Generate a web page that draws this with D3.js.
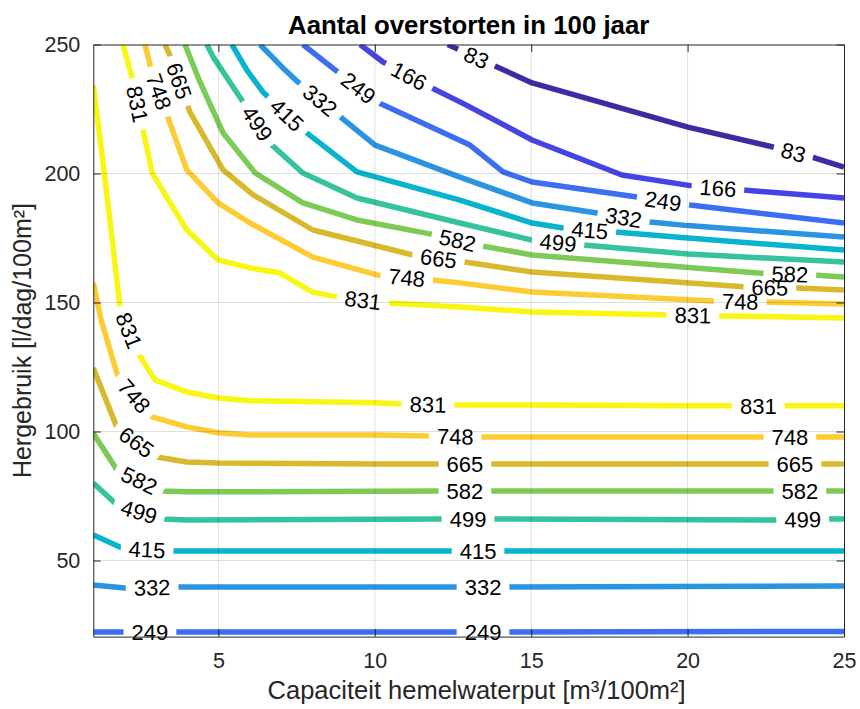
<!DOCTYPE html>
<html>
<head>
<meta charset="utf-8">
<script src="https://cdn.jsdelivr.net/npm/d3@7"></script>
<style>
  html, body { margin: 0; padding: 0; background: #fff; }
  svg { display: block; font-family: "Liberation Sans", Arial, Helvetica, sans-serif; }
</style>
</head>
<body>
<svg id="chart" width="860" height="709"></svg>
<script>
// ---- text ----
const titleText = "Aantal overstorten in 100 jaar";
const xLabelText = "Capaciteit hemelwaterput [m³/100m²]";
const yLabelText = "Hergebruik [l/dag/100m²]";

// ---- axes ----
const xDomain = [1, 25];
const yDomain = [20.5, 250];
const xTicks = [5, 10, 15, 20, 25];
const yTicks = [50, 100, 150, 200, 250];

// ---- contour levels and their colours ----
const levels = [83, 166, 249, 332, 415, 499, 582, 665, 748, 831];
const levelColors = ["#3a2da3", "#4543e3", "#3c6ef3", "#2b93e4", "#07b3ce",
                     "#34c39c", "#7ccb57", "#d8b92b", "#fdcc33", "#f8f714"];

// ---- contour lines: [capaciteit, hergebruik] ----
// upper family (high reuse)
const c83 = [[12.33,250],[12.72,247.9],[13.91,241.3],[15.03,235.1],[20.01,218.0],[22.86,209.9],[24.08,206.0],[25,202.5]];
const c166 = [[9.53,250],[10.26,243.2],[11.76,233.5],[12.88,226.8],[15.03,213.0],[17.90,199.4],[20.14,195.2],[21.78,193.6],[25,190.5]];
const c249a = [[7.70,250],[8.82,239.3],[10.07,227.7],[13.04,211.0],[14.10,200.6],[15.03,196.7],[18.38,190.9],[20.08,187.8],[25,180.8]];
const c332a = [[6.33,250],[7.03,241.3],[7.54,235.5],[8.82,222.7],[10.01,211.0],[12.72,198.6],[15.03,188.6],[17.10,184.7],[18.80,181.2],[20.01,179.8],[25,175.4]];
const c415a = [[5.43,250],[5.91,240.1],[6.42,231.6],[7.70,216.9],[9.43,200.6],[12.72,189.7],[15.03,180.8],[16.02,178.9],[17.68,177.3],[20.01,175.0],[25,170.3]];
const c499a = [[4.63,250],[4.83,245.2],[5.79,227.7],[6.71,211.0],[7.70,200.2],[9.43,190.5],[12.72,180.8],[15.03,174.2],[16.66,172.3],[20.01,168.8],[25,165.7]];
const c582a = [[3.93,250],[4.41,235.5],[5.15,215.7],[6.18,200.2],[7.70,188.6],[9.43,182.0],[11.76,176.6],[13.43,171.9],[15.03,168.4],[22.26,161.4],[24.01,160.7],[25,159.9]];
const c665a = [[3.29,250],[3.52,244.0],[4.09,223.8],[5.15,201.4],[6.11,191.7],[8.02,178.1],[11.22,168.4],[12.88,165.7],[15.03,161.8],[21.91,156.0],[23.50,155.6],[25,154.8]];
const c748a = [[2.65,250],[2.84,240.9],[3.39,221.5],[3.99,201.4],[4.99,188.6],[6.01,180.8],[8.02,167.6],[10.07,160.7],[11.86,158.7],[12.72,157.6],[15.03,154.1],[20.81,150.6],[22.48,150.2],[25,149.4]];
const c831a = [[1.95,250],[2.24,237.0],[2.59,216.9],[2.88,200.2],[3.99,178.1],[4.99,166.5],[6.01,163.4],[6.97,161.4],[7.99,154.1],[8.82,152.1],[10.42,149.8],[12.72,148.3],[15.03,146.3],[19.53,145.2],[21.10,144.8],[25,144.0]];
// lower family (low reuse)
const c831b = [[1.0,234.3],[1.28,207.2],[1.57,178.1],[1.85,148.3],[2.43,130.4],[2.97,120.0],[3.99,115.3],[4.99,113.0],[6.01,111.9],[8.15,111.5],[10.01,111.1],[10.80,110.7],[12.50,110.3],[15.03,110.3],[20.01,110.0],[21.46,110.0],[23.12,110.0],[25,110.0]];
const c748b = [[1.0,157.6],[1.25,143.2],[1.79,121.1],[2.88,105.7],[3.99,101.8],[4.99,99.5],[6.01,98.6],[10.01,98.6],[11.70,98.3],[13.36,97.9],[20.01,97.9],[22.39,97.9],[24.01,97.9],[25,97.9]];
const c665b = [[1.0,124.6],[1.76,101.4],[3.04,90.1],[3.99,88.2],[4.99,87.8],[10.01,87.4],[11.99,87.4],[13.62,87.4],[22.58,87.4],[24.24,87.4],[25,87.4]];
const c582b = [[1.0,99.3],[1.76,85.1],[3.20,76.9],[3.99,76.6],[12.15,76.9],[13.78,76.9],[22.80,76.9],[24.47,76.9],[25,76.9]];
const c499b = [[1.0,80.0],[1.76,71.5],[3.23,66.1],[3.99,65.7],[12.18,66.1],[13.85,66.1],[22.87,65.7],[24.55,66.1],[25,66.1]];
const c415b = [[1.0,59.9],[1.92,54.8],[3.55,53.7],[12.57,53.7],[14.23,53.7],[25,53.7]];
const c332b = [[1.0,40.5],[2.01,39.3],[3.61,39.7],[12.66,39.7],[14.33,39.7],[25,40.1]];
const c249b = [[1.0,22.3],[2.01,22.3],[3.68,22.3],[12.66,22.3],[14.33,22.3],[25,22.5]];

// ---- inline label anchors per line ----
const l83 = [[13.26,245.2],[23.36,207.2]];
const l166 = [[11.06,237.0],[20.97,194.4]];
const l249a = [[9.43,232.4],[19.21,189.0]];
const l332a = [[8.18,227.3],[17.94,182.0]];
const l415a = [[7.13,221.9],[16.87,177.3]];
const l499a = [[6.17,218.8],[15.86,173.4]];
const l582a = [[12.63,173.4],[23.27,161.4]];
const l665a = [[3.65,235.5],[12.03,166.5],[22.63,155.6]];
const l748a = [[2.97,231.2],[11.02,159.5],[21.68,150.2]];
const l831a = [[2.27,226.5],[9.62,150.9],[20.17,145.0]];
const l831b = [[1.95,138.2],[11.70,110.3],[22.26,109.8]];
const l748b = [[2.24,113.0],[12.57,97.9],[23.27,97.7]];
const l665b = [[2.27,94.0],[12.88,87.2],[23.43,87.2]];
const l582b = [[2.40,79.2],[12.88,76.8],[23.59,76.8]];
const l499b = [[2.43,67.6],[12.98,66.0],[23.68,65.9]];
const l415b = [[2.72,54.1],[13.30,53.7]];
const l332b = [[2.88,39.4],[13.46,39.6]];
const l249b = [[2.81,22.3],[13.46,22.3]];

const contourLines = [
  { level: 83,  points: c83,   labels: l83 },
  { level: 166, points: c166,  labels: l166 },
  { level: 249, points: c249a, labels: l249a },
  { level: 332, points: c332a, labels: l332a },
  { level: 415, points: c415a, labels: l415a },
  { level: 499, points: c499a, labels: l499a },
  { level: 582, points: c582a, labels: l582a },
  { level: 665, points: c665a, labels: l665a },
  { level: 748, points: c748a, labels: l748a },
  { level: 831, points: c831a, labels: l831a },
  { level: 831, points: c831b, labels: l831b },
  { level: 748, points: c748b, labels: l748b },
  { level: 665, points: c665b, labels: l665b },
  { level: 582, points: c582b, labels: l582b },
  { level: 499, points: c499b, labels: l499b },
  { level: 415, points: c415b, labels: l415b },
  { level: 332, points: c332b, labels: l332b },
  { level: 249, points: c249b, labels: l249b }
];

// ---- layout ----
const W = 860, H = 709;
const area = { left: 93.3, right: 844, top: 44.5, bottom: 636.6 };
const axisColor = "#262626";
const tickLen = 7.5;

const x = d3.scaleLinear().domain(xDomain).range([area.left, area.right]);
const y = d3.scaleLinear().domain(yDomain).range([area.bottom, area.top]);
const color = d3.scaleOrdinal().domain(levels).range(levelColors);

const svg = d3.select("#chart");
const defs = svg.append("defs");
defs.append("clipPath").attr("id", "area-clip")
  .append("rect")
  .attr("x", area.left).attr("y", area.top)
  .attr("width", area.right - area.left).attr("height", area.bottom - area.top);

svg.append("rect").attr("width", W).attr("height", H).attr("fill", "#fff");

const lineGen = d3.line();
const linesG = svg.append("g").attr("clip-path", "url(#area-clip)");
const labelsG = svg.append("g").attr("class", "clabels");

// place each label on the nearest segment of its line, rotated along it
function placeLabel(pts, anchor) {
  let best = null;
  for (let k = 0; k < pts.length - 1; k++) {
    const [x1, y1] = pts[k], [x2, y2] = pts[k + 1];
    const dx = x2 - x1, dy = y2 - y1, L2 = dx * dx + dy * dy;
    let t = ((anchor[0] - x1) * dx + (anchor[1] - y1) * dy) / L2;
    t = Math.max(0, Math.min(1, t));
    const qx = x1 + t * dx, qy = y1 + t * dy;
    const d = (qx - anchor[0]) ** 2 + (qy - anchor[1]) ** 2;
    if (!best || d < best.d) best = { d, x: qx, y: qy, ang: Math.atan2(dy, dx) * 180 / Math.PI };
  }
  let ang = best.ang;
  if (ang > 90) ang -= 180;
  if (ang < -90) ang += 180;
  return { x: best.x, y: best.y, ang };
}

contourLines.forEach((c, i) => {
  const pts = c.points.map(([a, b]) => [x(a), y(b)]);
  const placed = c.labels.map(([a, b]) => placeLabel(pts, [x(a), y(b)]));

  // label texts
  placed.forEach(p => {
    p.node = labelsG.append("text")
      .attr("transform", `translate(${p.x},${p.y}) rotate(${p.ang})`)
      .attr("text-anchor", "middle")
      .attr("dy", "0.36em")
      .attr("font-size", 22)
      .attr("fill", "#000")
      .text(c.level);
    p.w = p.node.node().getComputedTextLength();
  });

  // gap in the line under each label
  const maskId = "gap-" + i;
  const mask = defs.append("mask").attr("id", maskId)
    .attr("maskUnits", "userSpaceOnUse")
    .attr("x", 0).attr("y", 0).attr("width", W).attr("height", H);
  mask.append("rect").attr("width", W).attr("height", H).attr("fill", "#fff");
  placed.forEach(p => {
    const pad = 8;
    mask.append("rect")
      .attr("x", -(p.w / 2 + pad)).attr("y", -10)
      .attr("width", p.w + 2 * pad).attr("height", 20)
      .attr("transform", `translate(${p.x},${p.y}) rotate(${p.ang})`)
      .attr("fill", "#000");
  });

  linesG.append("path")
    .attr("d", lineGen(pts))
    .attr("fill", "none")
    .attr("stroke", color(c.level))
    .attr("stroke-width", 5.5)
    .attr("stroke-linejoin", "round")
    .attr("stroke-linecap", "butt")
    .attr("mask", `url(#${maskId})`);
});

// grid lines
const gridG = svg.append("g").attr("stroke", "rgba(38,38,38,0.15)").attr("stroke-width", 1);
xTicks.filter(t => t < xDomain[1]).forEach(t => {
  gridG.append("line").attr("x1", x(t)).attr("x2", x(t)).attr("y1", area.top).attr("y2", area.bottom);
});
yTicks.filter(t => t < yDomain[1]).forEach(t => {
  gridG.append("line").attr("x1", area.left).attr("x2", area.right).attr("y1", y(t)).attr("y2", y(t));
});

// keep labels above the grid
labelsG.raise();

// axes box and inward ticks via d3 axes
const axesG = svg.append("g");
const bottomAxis = d3.axisBottom(x).tickValues(xTicks).tickSizeInner(-tickLen).tickSizeOuter(0).tickPadding(16);
const topAxis = d3.axisTop(x).tickValues(xTicks).tickSizeInner(-tickLen).tickSizeOuter(0).tickFormat("");
const leftAxis = d3.axisLeft(y).tickValues(yTicks).tickSizeInner(-tickLen).tickSizeOuter(0).tickPadding(13);
const rightAxis = d3.axisRight(y).tickValues(yTicks).tickSizeInner(-tickLen).tickSizeOuter(0).tickFormat("");

function styleAxis(g) {
  g.select(".domain").attr("stroke", axisColor).attr("stroke-width", 1);
  g.selectAll(".tick line").attr("stroke", axisColor).attr("stroke-width", 1);
  g.selectAll(".tick text").attr("fill", axisColor).attr("font-size", 21.5)
    .attr("font-family", "\"Liberation Sans\", Arial, sans-serif");
}
axesG.append("g").attr("transform", `translate(0,${area.bottom})`).call(bottomAxis).call(styleAxis);
axesG.append("g").attr("transform", `translate(0,${area.top})`).call(topAxis).call(styleAxis);
axesG.append("g").attr("transform", `translate(${area.left},0)`).call(leftAxis).call(styleAxis);
axesG.append("g").attr("transform", `translate(${area.right},0)`).call(rightAxis).call(styleAxis);

// title and axis labels
svg.append("text")
  .attr("x", (area.left + area.right) / 2).attr("y", 34)
  .attr("text-anchor", "middle")
  .attr("font-size", 25.8).attr("font-weight", "bold").attr("fill", "#000")
  .text(titleText);

svg.append("text")
  .attr("x", (area.left + area.right) / 2 + 8).attr("y", 699)
  .attr("text-anchor", "middle")
  .attr("font-size", 25.5).attr("fill", axisColor)
  .text(xLabelText);

svg.append("text")
  .attr("transform", `translate(31,${(area.top + area.bottom) / 2}) rotate(-90)`)
  .attr("text-anchor", "middle")
  .attr("font-size", 25).attr("fill", axisColor)
  .text(yLabelText);
</script>
</body>
</html>
